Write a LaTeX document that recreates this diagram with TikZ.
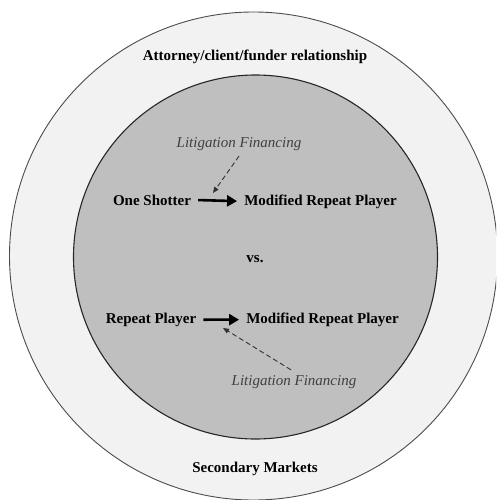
\documentclass[tikz,border=0pt]{standalone}
\usepackage{fontspec}
\setmainfont{Liberation Serif}
\usetikzlibrary{arrows.meta}

\begin{document}
\begin{tikzpicture}[x=1pt, y=-1pt,
          player/.style={font=\fontsize{15}{18}\selectfont\bfseries, inner sep=0pt, anchor=base},
          funding/.style={font=\fontsize{15}{18}\selectfont\itshape, text=black!75, inner sep=0pt, anchor=base},
          move/.style={line width=2.6pt, -{Triangle[length=10pt,width=11pt]}, shorten <=7pt, shorten >=7pt},
          push/.style={line width=0.9pt, dash pattern=on 5pt off 3pt, black!80, -{Triangle[length=6pt,width=5pt]}}
        ]
          \useasboundingbox (0,0) rectangle (496,500);
          \clip (0,0) rectangle (496,500);

          % rings
          \draw[fill=black!5, draw=black!70, line width=0.9pt] (253.5,256) circle[radius=244];
          \draw[fill=black!25, draw=black!85, line width=1.1pt] (255.5,257) circle[radius=182];

          % ring labels
          \node[player] (ring) at (255,61) {Attorney/client/funder relationship};
          \node[player] (market) at (255,472.5) {Secondary Markets};

          % players
          \node[player] (one) at (152,205) {One Shotter};
          \node[player] (mod1) at (320.5,205) {Modified Repeat Player};
          \node[player] (vs) at (255,262.7) {vs.};
          \node[player] (rp) at (151,323.3) {Repeat Player};
          \node[player] (mod2) at (322.5,323.3) {Modified Repeat Player};

          % financing
          \node[funding] (lf1) at (239,147.7) {Litigation Financing};
          \node[funding] (lf2) at (294,385) {Litigation Financing};
          \coordinate (hit1) at (213,193);
          \coordinate (hit2) at (223,328);

          % moves
          \draw[move] (one.east) -- (mod1.west);
          \draw[move] (rp.east) -- (mod2.west);

          % financing arrows
          \draw[push] ([yshift=-5pt]lf1.south) -- (hit1);
          \draw[push] ([xshift=-3pt,yshift=5pt]lf2.north) -- (hit2);
\end{tikzpicture}
\end{document}
